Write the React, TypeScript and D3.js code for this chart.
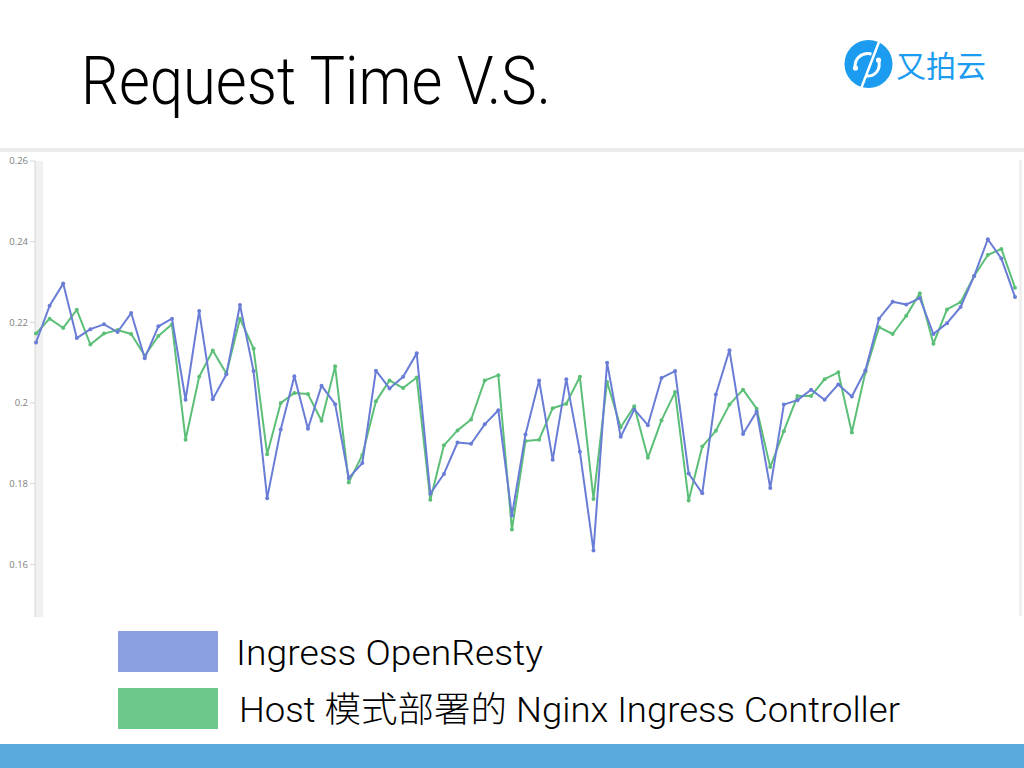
import React, { useRef, useEffect } from "react";
import * as d3 from "d3";

// request time per sample
const openResty = [
  0.215, 0.2241, 0.2296, 0.2161, 0.2183, 0.2195, 0.2176, 0.2223, 0.2111, 0.219,
  0.2209, 0.2008, 0.2228, 0.2009, 0.2071, 0.2243, 0.2079, 0.1764, 0.1934, 0.2066,
  0.1936, 0.2043, 0.1997, 0.1814, 0.1851, 0.208, 0.2036, 0.2065, 0.2123, 0.1775,
  0.1824, 0.1902, 0.1899, 0.1947, 0.1982, 0.1721, 0.1922, 0.2056, 0.1859, 0.2059,
  0.1879, 0.1634, 0.21, 0.1916, 0.1984, 0.1945, 0.2062, 0.2079, 0.1825, 0.1776,
  0.2021, 0.2131, 0.1923, 0.1979, 0.1789, 0.1996, 0.2007, 0.2033, 0.2008, 0.2046,
  0.2016, 0.2081, 0.2209, 0.2251, 0.2244, 0.226, 0.2171, 0.2198, 0.2238, 0.2315,
  0.2406, 0.2358, 0.2263,
];

const hostNginx = [
  0.2172, 0.2209, 0.2186, 0.2231, 0.2145, 0.2172, 0.2181, 0.2171, 0.2117, 0.2166,
  0.2195, 0.1909, 0.2065, 0.213, 0.2073, 0.2209, 0.2135, 0.1873, 0.2, 0.2025,
  0.2022, 0.1956, 0.2091, 0.1803, 0.1871, 0.2004, 0.2056, 0.2037, 0.2063, 0.176,
  0.1895, 0.1932, 0.1959, 0.2056, 0.2069, 0.1686, 0.1906, 0.1909, 0.1987, 0.1998,
  0.2065, 0.1762, 0.2052, 0.194, 0.1992, 0.1864, 0.1957, 0.2027, 0.1758, 0.1892,
  0.1931, 0.1996, 0.2033, 0.1986, 0.1841, 0.193, 0.2017, 0.2017, 0.2059, 0.2076,
  0.1927, 0.2077, 0.2188, 0.2171, 0.2216, 0.2272, 0.2147, 0.2232, 0.225, 0.2315,
  0.2367, 0.2382, 0.2286,
];

const yTicks = [0.16, 0.18, 0.2, 0.22, 0.24, 0.26];
const yTickLabels = ["0.16", "0.18", "0.2", "0.22", "0.24", "0.26"];

const seriesNames = ["Ingress OpenResty", "Host 模式部署的 Nginx Ingress Controller"];
const lineColors = ["#6a7dd6", "#5cbf78"];
const legendColors = ["#8a9fe0", "#6cc98b"];

const W = 1024;
const H = 768;

export default function App() {
  const svgRef = useRef<SVGSVGElement | null>(null);

  useEffect(() => {
    const svg = svgRef.current;
    if (!svg) return;
    const sel = d3.select(svg);
    sel.selectAll("*").remove();

    sel.append("rect").attr("width", W).attr("height", H).attr("fill", "#fff");

    // title
    sel
      .append("text")
      .attr("x", 81)
      .attr("y", 104)
      .attr("font-family", "Roboto, 'Liberation Sans', sans-serif")
      .attr("font-weight", 300)
      .attr("font-size", 67)
      .attr("fill", "#000")
      .attr("textLength", 470)
      .attr("lengthAdjust", "spacingAndGlyphs")
      .text("Request Time V.S.");

    // logo
    const logo = sel.append("g").attr("transform", "translate(868.5,64)");
    logo.append("circle").attr("r", 24).attr("fill", "#1c9cf0");
    logo
      .append("line")
      .attr("x1", 12)
      .attr("y1", -26)
      .attr("x2", -8)
      .attr("y2", 26)
      .attr("stroke", "#fff")
      .attr("stroke-width", 2.5);
    logo
      .append("path")
      .attr("d", "M3,-10 C-7,-12 -15,-5 -13,4")
      .attr("fill", "none")
      .attr("stroke", "#fff")
      .attr("stroke-width", 3);
    logo
      .append("path")
      .attr("d", "M10,-4 C13,6 6,13 -3,12")
      .attr("fill", "none")
      .attr("stroke", "#fff")
      .attr("stroke-width", 3);
    logo.append("circle").attr("cx", -13).attr("cy", 4).attr("r", 2.6).attr("fill", "#fff");
    logo.append("circle").attr("cx", 10).attr("cy", -4).attr("r", 2.6).attr("fill", "#fff");
    sel
      .append("text")
      .attr("x", 896)
      .attr("y", 77)
      .attr("font-family", "'Noto Sans CJK SC', sans-serif")
      .attr("font-size", 30)
      .attr("fill", "#1c9cf0")
      .text("又拍云");

    // separator under title
    sel
      .append("rect")
      .attr("x", 0)
      .attr("y", 148)
      .attr("width", W)
      .attr("height", 4)
      .attr("fill", "#ececec");

    // chart
    const x = d3
      .scaleLinear()
      .domain([0, openResty.length - 1])
      .range([36, 1015]);
    const y = d3.scaleLinear().domain([0.16, 0.26]).range([564.3, 161]);
    const yBottom = 0.1469;

    sel
      .append("rect")
      .attr("x", 35)
      .attr("y", y(0.26))
      .attr("width", 8)
      .attr("height", y(yBottom) - y(0.26))
      .attr("fill", "#f1f1f1");
    sel
      .append("rect")
      .attr("x", 1019)
      .attr("y", y(0.26) - 1)
      .attr("width", 3)
      .attr("height", y(yBottom) - y(0.26))
      .attr("fill", "#f0f0f0");

    const axis = sel.append("g").attr("transform", "translate(35,0)");
    axis
      .append("line")
      .attr("y1", y(0.26))
      .attr("y2", y(yBottom))
      .attr("stroke", "#d6d6d6")
      .attr("stroke-width", 1);
    yTicks.forEach((t, i) => {
      axis
        .append("line")
        .attr("x1", -5)
        .attr("x2", 0)
        .attr("y1", y(t))
        .attr("y2", y(t))
        .attr("stroke", "#d6d6d6");
      axis
        .append("text")
        .attr("x", -7)
        .attr("y", y(t))
        .attr("dy", "0.35em")
        .attr("text-anchor", "end")
        .attr("font-family", "'Open Sans', 'Noto Sans', sans-serif")
        .attr("font-size", 9.5)
        .attr("fill", "#808080")
        .text(yTickLabels[i]);
    });

    const line = d3
      .line<number>()
      .x((_, i) => x(i))
      .y((d) => y(d));

    [hostNginx, openResty].forEach((vals, k) => {
      const c = k === 0 ? lineColors[1] : lineColors[0];
      sel
        .append("path")
        .attr("d", line(vals))
        .attr("fill", "none")
        .attr("stroke", c)
        .attr("stroke-width", 2)
        .attr("stroke-linejoin", "round");
      sel
        .append("g")
        .selectAll("circle")
        .data(vals)
        .enter()
        .append("circle")
        .attr("cx", (_, i) => x(i))
        .attr("cy", (d) => y(d))
        .attr("r", 2)
        .attr("fill", c);
    });

    // legend
    seriesNames.forEach((name, i) => {
      const top = 631 + i * 57;
      sel
        .append("rect")
        .attr("x", 118)
        .attr("y", top)
        .attr("width", 100)
        .attr("height", 41)
        .attr("fill", legendColors[i]);
      sel
        .append("text")
        .attr("x", i === 0 ? 236 : 239)
        .attr("y", top + 34)
        .attr("font-family", "Roboto, 'Liberation Sans', 'Noto Sans CJK SC', sans-serif")
        .attr("font-weight", 300)
        .attr("font-size", 35)
        .attr("fill", "#000")
        .attr("textLength", i === 0 ? 307 : 661)
        .attr("lengthAdjust", "spacingAndGlyphs")
        .text(name);
    });

    // bottom band
    sel
      .append("rect")
      .attr("x", 0)
      .attr("y", 744)
      .attr("width", W)
      .attr("height", 24)
      .attr("fill", "#5aaadb");
  }, []);

  return (
    <svg
      ref={svgRef}
      width={W}
      height={H}
      style={{ position: "fixed", left: 0, top: 0, display: "block" }}
    />
  );
}
